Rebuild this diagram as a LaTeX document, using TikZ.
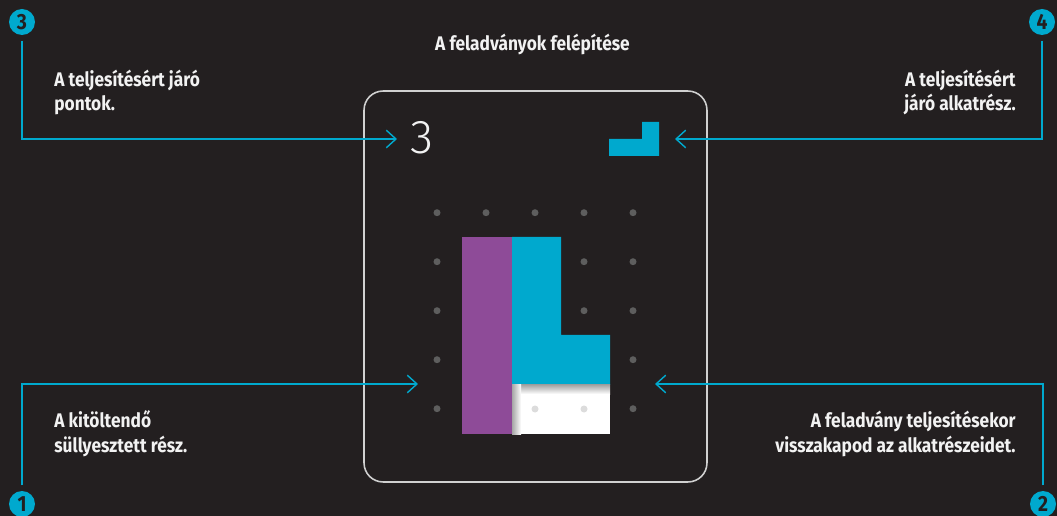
\documentclass[tikz,border=0pt]{standalone}
\usepackage{fontspec}
\setmainfont{Fira Sans}[FakeStretch=0.88]
\newfontfamily\thinfont{Fira Sans Light}
\usetikzlibrary{arrows.meta,positioning}
\definecolor{hgBg}{HTML}{231F20}
\definecolor{hgCyan}{HTML}{00A9CE}
\definecolor{hgPurple}{HTML}{8E4B98}
\definecolor{hgDot}{HTML}{5E5E5E}
\definecolor{hgDotLight}{HTML}{DCDCDC}
\definecolor{hgText}{HTML}{F2F2F2}
\definecolor{hgFrame}{HTML}{D0D0D0}
\tikzset{
  % Numbered badge (cyan disc)
  badge/.style={circle,fill=hgCyan,inner sep=0pt,minimum size=0.52cm,
    font=\bfseries\fontsize{12.5}{13}\selectfont,text=hgBg},
  % Label text
  lbl/.style={inner sep=0pt,font=\bfseries\fontsize{11.2}{13.7}\selectfont,
    text=hgText},
  lblL/.style={lbl,align=left,anchor=base west},
  lblR/.style={lbl,align=right,anchor=base east},
  % Card frame
  card/.style={rectangle,rounded corners=0.38cm,draw=hgFrame,line width=0.9pt,
    minimum width=6.86cm,minimum height=7.82cm},
  % Score digit
  score/.style={inner sep=0pt,font=\thinfont\fontsize{27}{30}\selectfont,
    text=hgText},
  % Arrows
  arr/.style={draw=hgCyan,line width=0.8pt,shorten <=3pt,
    -{Straight Barb[length=5.5pt,width=10pt]}},
}
\begin{document}
\begin{tikzpicture}[x=0.02cm,y=-0.02cm]
  \fill[hgBg] (0,0) rectangle (1057,516);
  \useasboundingbox (0,0) rectangle (1057,516);

  % Title
  \node[lbl,anchor=base] (title) at (532.5,51) {A feladványok felépítése};

  % Card
  \node[card] (card) at (535.5,286.5) {};
  \node[score] (pts) at (422,138) {3};
  \fill[hgCyan] (609,139) rectangle (659,156) (642,122) rectangle (659,139);

  % Grid of dots
  \foreach \i in {0,...,4}
    \foreach \j in {0,...,4}
      \fill[hgDot] (437+49*\i,212.7+49*\j) circle[radius=0.07cm];

  % Pieces
  \fill[hgPurple] (462,237) rectangle (512,434);
  \fill[hgCyan] (512,237) -- (561,237) -- (561,335) -- (610,335)
    -- (610,385) -- (512,385) -- cycle;
  \fill[white] (512,385) rectangle (610,434);
  \shade[top color=black!35,bottom color=white] (512,385) rectangle (610,394);
  \shade[left color=black!35,right color=white] (512,385) rectangle (521,434);
  \fill[hgDotLight] (535,409) circle[radius=0.07cm] (584,409) circle[radius=0.07cm];

  % Badges
  \node[badge] (b3) at (22,22) {3};
  \node[badge] (b4) at (1042,22) {4};
  \node[badge] (b1) at (22,504) {1};
  \node[badge] (b2) at (1043,504) {2};

  \coordinate (tip3) at (397,139);
  \coordinate (tip4) at (675,139);
  \coordinate (tip1) at (418,384);
  \coordinate (tip2) at (655,384);

  \draw[arr] (b3) |- (tip3);
  \draw[arr] (b4) |- (tip4);
  \draw[arr] (b1) |- (tip1);
  \draw[arr] (b2) |- (tip2);

  % Labels
  \node[lblL] (t3) at (54,111) {A teljesítésért járó\\pontok.};
  \node[lblR] (t4) at (1016,111) {A teljesítésért\\járó alkatrész.};
  \node[lblL] (t1) at (54,452) {A kitöltendő\\süllyesztett rész.};
  \node[lblR] (t2) at (1016,452) {A feladvány teljesítésekor\\visszakapod az alkatrészeidet.};
\end{tikzpicture}
\end{document}
